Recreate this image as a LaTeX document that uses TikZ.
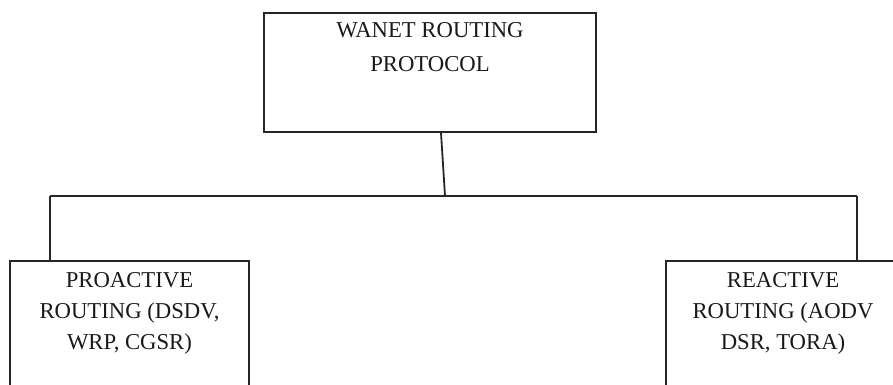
\documentclass[tikz,border=0pt]{standalone}
\usepackage{fontspec}
\setmainfont{Liberation Serif}
\begin{document}
\begin{tikzpicture}[x=1pt,y=-1pt,
  box/.style={draw=black!85,line width=1.8pt,fill=white,inner sep=0pt},
  lbl/.style={inner sep=0pt,align=center,anchor=north,text=black!90},
  wire/.style={draw=black!85,line width=1.8pt}]
\useasboundingbox (0,0) rectangle (893,385);
\clip (0,0) rectangle (893,385);
% boxes
\node[box,minimum width=332pt,minimum height=119pt] (top) at (430,72.5) {};
\node[box,minimum width=239pt,minimum height=200pt] (left) at (129.5,361) {};
\node[box,minimum width=234pt,minimum height=200pt] (right) at (783,361) {};
% texts
\node[lbl,font=\fontsize{22.7}{34}\selectfont] (toptext) at (430,22) {WANET ROUTING\\PROTOCOL};
\node[lbl,font=\fontsize{22.7}{31}\selectfont] (lefttext) at (129.5,272) {PROACTIVE\\ROUTING (DSDV,\\WRP, CGSR)};
\node[lbl,font=\fontsize{22.7}{31}\selectfont] (righttext) at (783,272) {REACTIVE\\ROUTING (AODV\\DSR, TORA)};
% connectors
\coordinate (j) at (445,196);
\coordinate (ltop) at (50,196);
\coordinate (rtop) at (857,196);
\draw[wire] ([xshift=11pt]top.south) -- (j);
\draw[wire] (ltop) -- (rtop);
\draw[wire] (ltop) -- (ltop |- left.north);
\draw[wire] (rtop) -- (rtop |- right.north);
\end{tikzpicture}
\end{document}
